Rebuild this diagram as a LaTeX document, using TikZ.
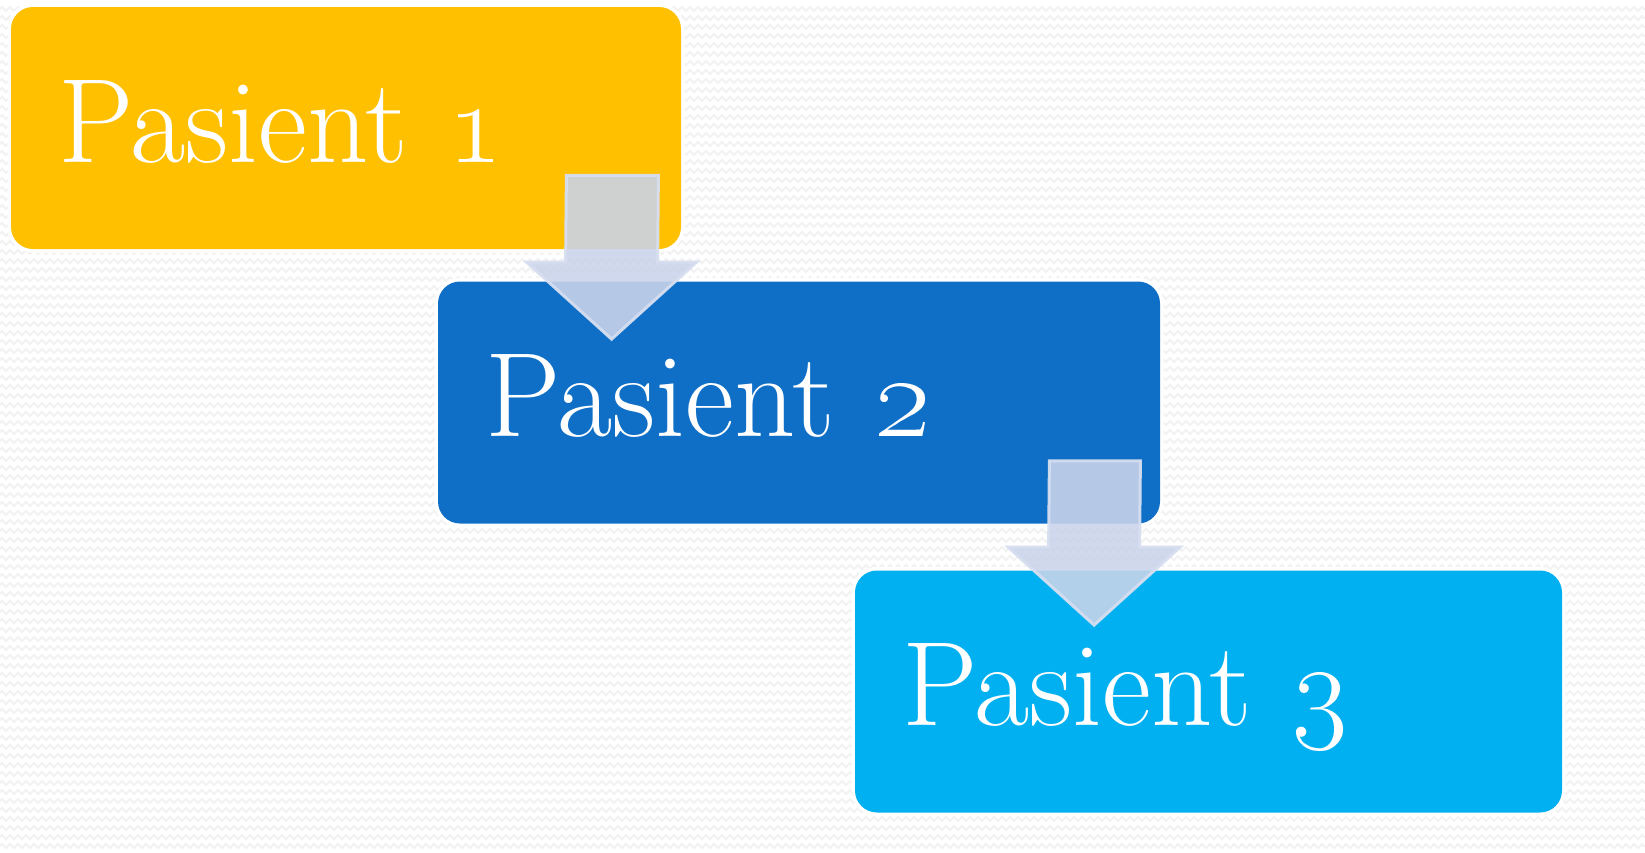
\RequirePackage{fix-cm}
\documentclass[tikz,border=0pt]{standalone}
\usetikzlibrary{calc,decorations.pathmorphing}
\definecolor{pgold}{HTML}{FFC000}
\definecolor{pblue}{HTML}{0F6FC6}
\definecolor{pcyan}{HTML}{00B0F0}
\definecolor{arrfill}{RGB}{202,212,234}
\definecolor{arredge}{RGB}{214,222,240}
\definecolor{zzgray}{RGB}{242,242,242}
\begin{document}
\begin{tikzpicture}[x=0.5pt, y=-0.5pt,
  patbox/.style={rounded corners=11pt, preaction={draw=white, line width=3.5pt},
    text=white, inner xsep=23.5pt, inner ysep=0pt, minimum height=121pt, align=left,
    text height=45pt, text depth=11pt, font=\fontsize{60}{70}\selectfont},
  blkarrow/.style={fill=arrfill, fill opacity=0.89, draw=arredge, draw opacity=0.95,
    line width=1.5pt, line join=miter},
  zz/.style={draw=zzgray, line width=0.9pt, decorate,
    decoration={zigzag, segment length=4pt, amplitude=1pt}}]
\useasboundingbox (0,0) rectangle (1645,852);
\fill[white] (0,0) rectangle (1645,852);
% background texture
\foreach \r in {1,...,94}
  \draw[zz] (0,\r*9) -- (1645,\r*9);
% patient boxes
\node[patbox, fill=pgold, minimum width=335pt, text width=288pt] (p1) at (346,128) {Pasient \oldstylenums{1}};
\node[patbox, fill=pblue, minimum width=361pt, text width=314pt] (p2) at (799,402.5) {Pasient \oldstylenums{2}};
\node[patbox, fill=pcyan, minimum width=353.5pt, text width=306.5pt] (p3) at (1208.5,691.5) {Pasient \oldstylenums{3}};
% block arrows
\coordinate (a1s) at ($(p1.south east)+(-69,-74)$);
\coordinate (a1t) at ($(p2.north west)+(174,58)$);
\draw[blkarrow] ($(a1s)+(-46,0)$) -- ($(a1s)+(46,0)$) -- ($(a1t)+(46,-77)$) -- ($(a1t)+(85,-77)$)
  -- (a1t) -- ($(a1t)+(-85,-77)$) -- ($(a1t)+(-46,-77)$) -- cycle;
\coordinate (a2s) at ($(p2.south east)+(-65.5,-63)$);
\coordinate (a2t) at ($(p3.north west)+(239.5,55)$);
\draw[blkarrow] ($(a2s)+(-45.5,0)$) -- ($(a2s)+(45.5,0)$) -- ($(a2t)+(45.5,-78)$) -- ($(a2t)+(86,-78)$)
  -- (a2t) -- ($(a2t)+(-86,-78)$) -- ($(a2t)+(-45.5,-78)$) -- cycle;
\end{tikzpicture}
\end{document}
